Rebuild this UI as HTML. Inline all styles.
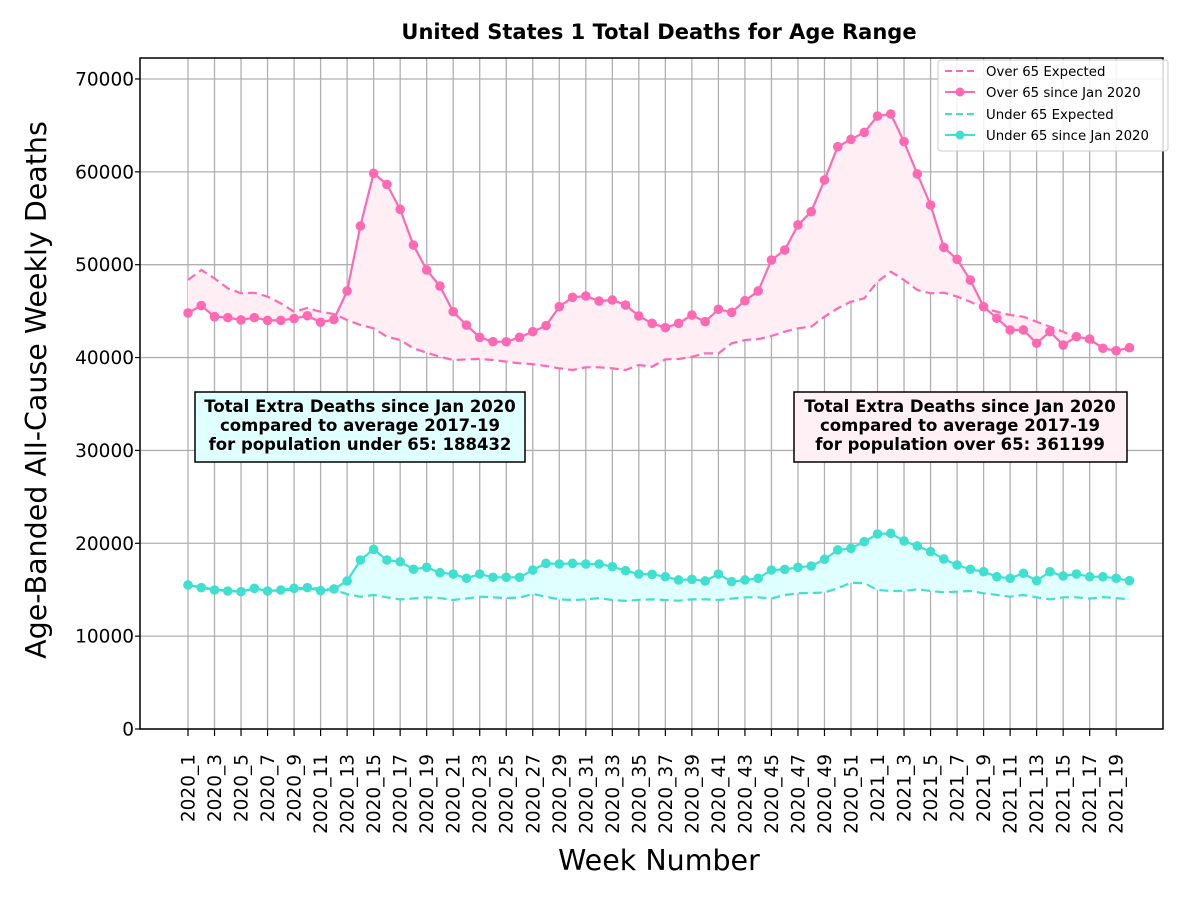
<!DOCTYPE html>
<html><head><meta charset="utf-8"><style>
body{margin:0;background:#fff}
svg{display:block;font-family:"DejaVu Sans","Liberation Sans",sans-serif}
</style></head><body>
<svg id="chart" width="1200" height="900" viewBox="0 0 1200 900" xmlns="http://www.w3.org/2000/svg">
<rect width="1200" height="900" fill="#fff"/>
<g id="grid"></g>
<g id="fills"></g>
<g id="series"></g>
<g id="axes"></g>
<text x="659" y="39" text-anchor="middle" font-size="21" font-weight="bold">United States 1 Total Deaths for Age Range</text>
<text transform="translate(46,390) rotate(-90)" text-anchor="middle" font-size="28.5">Age-Banded All-Cause Weekly Deaths</text>
<text x="659" y="870" text-anchor="middle" font-size="28.5">Week Number</text>
<g>
<rect x="195" y="392" width="330" height="70" fill="#e0ffff" stroke="#000" stroke-width="1.5"/>
<text x="360" y="412" text-anchor="middle" font-size="16.5" font-weight="bold">Total Extra Deaths since Jan 2020</text>
<text x="360" y="431" text-anchor="middle" font-size="16.5" font-weight="bold">compared to average 2017-19</text>
<text x="360" y="450" text-anchor="middle" font-size="16.5" font-weight="bold">for population under 65: 188432</text>
</g>
<g>
<rect x="794" y="392" width="333" height="70" fill="#fff0f5" stroke="#000" stroke-width="1.5"/>
<text x="960" y="412" text-anchor="middle" font-size="16.5" font-weight="bold">Total Extra Deaths since Jan 2020</text>
<text x="960" y="431" text-anchor="middle" font-size="16.5" font-weight="bold">compared to average 2017-19</text>
<text x="960" y="450" text-anchor="middle" font-size="16.5" font-weight="bold">for population over 65: 361199</text>
</g>
<g>
<rect x="938" y="60" width="230" height="91" rx="3" fill="#fff" fill-opacity="0.85" stroke="#ccc"/>
<line x1="945" y1="71" x2="975" y2="71" stroke="#ff69b4" stroke-width="2" stroke-dasharray="7,4"/>
<text x="986" y="76" font-size="13.3">Over 65 Expected</text>
<line x1="945" y1="92" x2="975" y2="92" stroke="#ff69b4" stroke-width="2"/><circle cx="960" cy="92" r="4.5" fill="#ff69b4"/>
<text x="986" y="97" font-size="13.3">Over 65 since Jan 2020</text>
<line x1="945" y1="114" x2="975" y2="114" stroke="#40e0d0" stroke-width="2" stroke-dasharray="7,4"/>
<text x="986" y="119" font-size="13.3">Under 65 Expected</text>
<line x1="945" y1="135" x2="975" y2="135" stroke="#40e0d0" stroke-width="2"/><circle cx="960" cy="135" r="4.5" fill="#40e0d0"/>
<text x="986" y="140" font-size="13.3">Under 65 since Jan 2020</text>
</g>
</svg>
<script>
const over65Actual=[44800,45600,44400,44300,44050,44300,44000,44000,44200,44500,43800,44100,47170,54170,59840,58650,55960,52120,49430,47700,44940,43500,42180,41710,41700,42180,42790,43440,45480,46490,46630,46090,46200,45660,44480,43690,43220,43690,44580,43860,45200,44870,46120,47170,50500,51580,54280,55710,59120,62710,63500,64250,66010,66230,63250,59770,56430,51870,50580,48350,45480,44230,42970,42970,41540,42790,41350,42250,42000,41000,40740,41060];
const over65Expected=[48350,49430,48530,47460,46920,46990,46560,45840,44940,45340,44940,44690,44050,43510,43150,42250,41890,41000,40520,40090,39740,39800,39850,39740,39560,39380,39300,39090,38840,38660,38950,38950,38840,38660,39200,39020,39810,39850,40090,40450,40450,41540,41890,41990,42320,42790,43150,43330,44400,45300,46020,46380,48170,49250,48350,47280,46920,46990,46560,46020,45300,44940,44580,44400,43860,43330,42790,42070,41710,41170,40740,40800];
const under65Actual=[15510,15220,14970,14860,14790,15150,14860,14970,15150,15220,14900,15080,15940,18200,19350,18200,18020,17200,17410,16830,16690,16230,16690,16340,16340,16340,17120,17840,17770,17840,17770,17770,17480,17050,16690,16660,16400,16050,16120,15940,16690,15860,16050,16230,17120,17190,17410,17550,18270,19280,19460,20170,21000,21070,20250,19710,19100,18310,17660,17200,16940,16400,16230,16770,15970,16940,16480,16690,16400,16400,16230,15970];
const under65Expected=[15500,15300,15000,14900,14800,15100,14900,14900,15000,15100,15200,14950,14540,14250,14430,14180,13960,14050,14180,14100,13890,14050,14250,14180,14100,14150,14540,14250,13960,13890,13960,14100,13890,13800,13900,13960,13890,13820,13960,13960,13890,14040,14180,14180,14040,14430,14610,14650,14700,15150,15760,15700,14970,14860,14860,15040,14860,14720,14790,14860,14610,14430,14250,14430,14180,13960,14180,14180,14040,14200,14100,13960];
const weekLabels=[];
for(let w=1;w<=52;w++)weekLabels.push('2020_'+w);
for(let w=1;w<=20;w++)weekLabels.push('2021_'+w);
const yTicks=[0,10000,20000,30000,40000,50000,60000,70000];

const NS='http://www.w3.org/2000/svg';
const L=140,R=1163,T=58,B=729;
function xs(i){return 188+i*13.26;}
function ys(v){return 729-v*0.009286;}
function mk(tag,attrs,parent){const e=document.createElementNS(NS,tag);for(const k in attrs)e.setAttribute(k,attrs[k]);parent.appendChild(e);return e;}
const grid=document.getElementById('grid'),axes=document.getElementById('axes'),fills=document.getElementById('fills'),series=document.getElementById('series');
yTicks.forEach(v=>{
  const g=mk('line',{x1:L,x2:R,y1:ys(v),y2:ys(v),stroke:'#b0b0b0','stroke-width':1.3},grid);
  
  
  mk('line',{x1:L-5,x2:L,y1:ys(v),y2:ys(v),stroke:'#000','stroke-width':1.2},axes);
  const t=mk('text',{x:L-6,y:ys(v)+6.5,'text-anchor':'end','font-size':18.5},axes);
  t.textContent=v;
  
  
});
weekLabels.forEach((lab,i)=>{
  if(i%2)return;
  const x=xs(i);
  const g=mk('line',{x1:x,x2:x,y1:T,y2:B,stroke:'#b0b0b0','stroke-width':1.3},grid);
  
  
  mk('line',{x1:x,x2:x,y1:B,y2:B+7,stroke:'#000','stroke-width':1.2},axes);
  const t=mk('text',{transform:`translate(${x+6.5},${B+25}) rotate(-90)`,'text-anchor':'end','font-size':18.5},axes);
  t.textContent=lab;
  
  
});
const frame=mk('rect',{x:L,y:T,width:R-L,height:B-T,fill:'none',stroke:'#000','stroke-width':1.5},axes);


function pts(arr){return arr.map((v,i)=>xs(i).toFixed(1)+','+ys(v).toFixed(1));}
function fill(a,b,color,name){
  const p=pts(a).concat(pts(b).reverse());
  const e=mk('polygon',{points:p.join(' '),fill:color},fills);
  
  
}
fill(over65Actual,over65Expected,'#ffeef4','over-65-excess-fill');
fill(under65Actual,under65Expected,'#e0ffff','under-65-excess-fill');
function line(arr,color,dashed,name,dots){
  const e=mk('polyline',{points:pts(arr).join(' '),fill:'none',stroke:color,'stroke-width':2.2,'stroke-dasharray':dashed?'9,5':'none'},series);
  
  
  if(dots)arr.forEach((v,i)=>{
    const c=mk('circle',{cx:xs(i),cy:ys(v),r:4.8,fill:color},series);
    
    
  });
}
line(over65Expected,'#ff69b4',true,'over-65-expected-line',false);
line(over65Actual,'#ff69b4',false,'over-65-actual-line',true);
line(under65Expected,'#40e0d0',true,'under-65-expected-line',false);
line(under65Actual,'#40e0d0',false,'under-65-actual-line',true);
</script>
</body></html>
